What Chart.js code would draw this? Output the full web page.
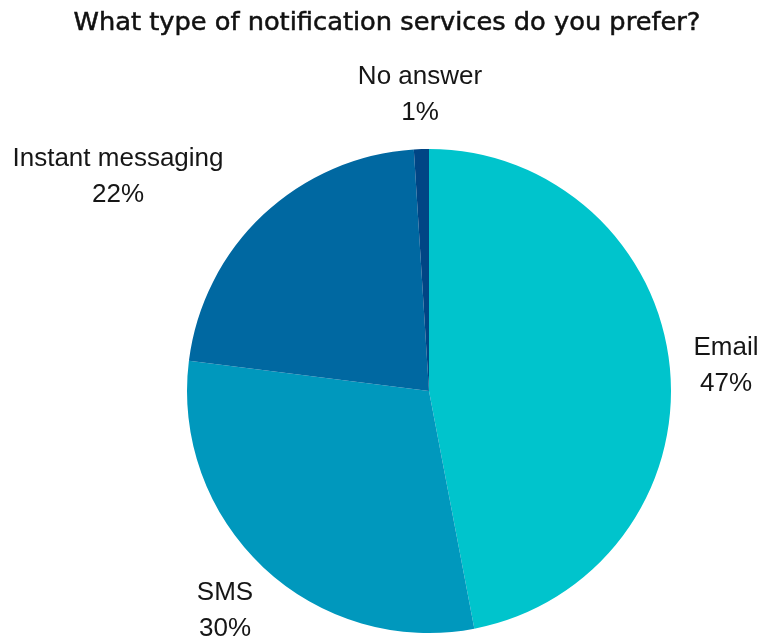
<!DOCTYPE html>
<html>
<head>
<meta charset="utf-8">
<script src="https://cdn.jsdelivr.net/npm/chart.js@4"></script>
<style>
  html, body { margin: 0; padding: 0; background: #fff; }
  #wrap { width: 761px; height: 637px; }
</style>
</head>
<body>
<div id="wrap"><canvas id="pie" width="761" height="637"></canvas></div>
<script>
/* Notification preference survey – pie chart */

const categories = ['Email', 'SMS', 'Instant messaging', 'No answer'];
const shares = [47, 30, 22, 1];
const sliceColors = ['#00C4CC', '#0098BD', '#0068A1', '#004585'];

// where each two-line label sits (centre x, first line baseline y)
const labelSpots = [
  { x: 726, y: 355 },
  { x: 225, y: 600 },
  { x: 118, y: 166 },
  { x: 420, y: 84 },
];

const TITLE = 'What type of notification services do you prefer?';
const TITLE_WIDTH = 627;

/* Draws the title and the outside labels */
const pieLabels = {
  id: 'pieLabels',
  afterDraw(chart) {
    const c = chart.ctx;
    c.save();
    c.fillStyle = '#111';
    c.strokeStyle = '#111';
    c.lineWidth = 0.5;
    c.textAlign = 'center';
    c.textBaseline = 'alphabetic';
    c.font = '24px "DejaVu Sans", sans-serif';
    // keep the title to its full width
    const w = c.measureText(TITLE).width;
    c.save();
    c.translate(387, 30);
    c.scale(TITLE_WIDTH / w, 1);
    c.fillText(TITLE, 0, 0);
    c.strokeText(TITLE, 0, 0);
    c.restore();

    c.fillStyle = '#161616';
    c.font = '26px "Liberation Sans", Arial, sans-serif';
    const data = chart.data.datasets[0].data;
    chart.data.labels.forEach((lab, i) => {
      const p = labelSpots[i];
      c.fillText(lab, p.x, p.y);
      c.fillText(data[i] + '%', p.x, p.y + 36);
    });
    c.restore();
  }
};

new Chart(document.getElementById('pie'), {
  type: 'pie',
  data: {
    labels: categories,
    datasets: [{
      data: shares,
      backgroundColor: sliceColors,
      borderWidth: 0,
    }]
  },
  options: {
    responsive: false,
    animation: false,
    layout: { padding: { left: 187, right: 90, top: 149, bottom: 4 } },
    plugins: {
      legend: { display: false },
      title: { display: false },
      tooltip: { enabled: false },
    }
  },
  plugins: [pieLabels]
});
</script>
</body>
</html>
